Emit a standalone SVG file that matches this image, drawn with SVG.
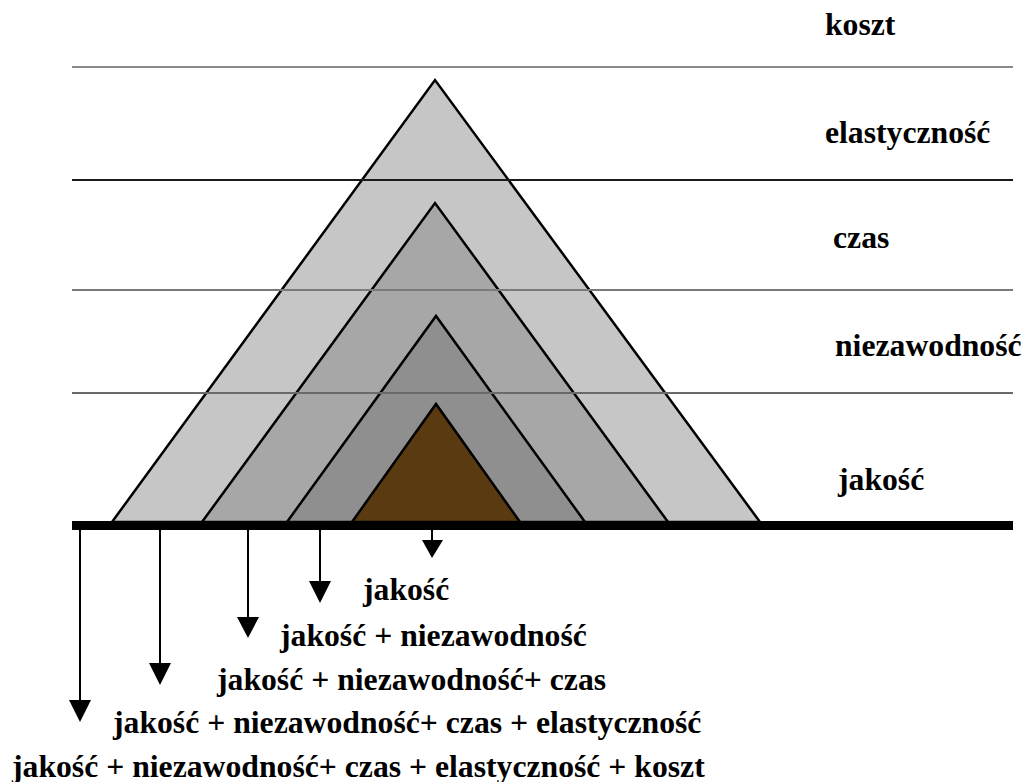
<svg xmlns="http://www.w3.org/2000/svg" width="1025" height="782" viewBox="0 0 1025 782">
  <style>
    .lbl { font-family: "Liberation Serif", "Times New Roman", serif; font-weight: bold; font-size: 31.7px; fill: #000; }
    .tri { stroke: #000; stroke-width: 2.5; stroke-linejoin: miter; }
    .level { stroke-width: 2; fill: none; }
    .arrow { stroke: #000; stroke-width: 2; fill: none; }
    .head { fill: #000; stroke: none; }
  </style>
  <rect width="1025" height="782" fill="#fff"/>

  <!-- nested pyramid layers, widest first -->
  <g id="layer-koszt">
    <polygon class="tri" points="112,522 435,80 760,522" fill="#c6c6c6"/>
  </g>
  <g id="layer-elastycznosc">
    <polygon class="tri" points="202,522 435,203 668,522" fill="#a7a7a7"/>
  </g>
  <g id="layer-czas">
    <polygon class="tri" points="287,522 436,316 585,522" fill="#8f8f8f"/>
  </g>
  <g id="layer-jakosc">
    <polygon class="tri" points="352,522 436,404 520,522" fill="#5a3a10"/>
  </g>

  <!-- level separators -->
  <g id="levels">
    <line class="level" x1="72" y1="67" x2="1013" y2="67" stroke="#8a8a8a"/>
    <line class="level" x1="72" y1="180" x2="1013" y2="180" stroke="#1a1a1a"/>
    <line class="level" x1="72" y1="290" x2="1013" y2="290" stroke="#7a7a7a"/>
    <line class="level" x1="72" y1="393" x2="1013" y2="393" stroke="#6a6a6a"/>
  </g>

  <!-- ground line -->
  <g id="base">
    <rect x="72" y="521" width="941" height="9" fill="#000"/>
  </g>

  <!-- level names -->
  <g id="level-labels">
    <text class="lbl" x="825" y="35">koszt</text>
    <text class="lbl" x="825" y="143">elastyczność</text>
    <text class="lbl" x="833" y="248">czas</text>
    <text class="lbl" x="835" y="356">niezawodność</text>
    <text class="lbl" x="838" y="490">jakość</text>
  </g>

  <!-- down arrows from the ground line -->
  <g id="connectors">
    <line class="arrow" x1="80" y1="530" x2="80" y2="702"/>
    <polygon class="head" points="69,700 91,700 80,722"/>
    <line class="arrow" x1="160" y1="530" x2="160" y2="665"/>
    <polygon class="head" points="149,663 171,663 160,685"/>
    <line class="arrow" x1="248" y1="530" x2="248" y2="619"/>
    <polygon class="head" points="237,617 259,617 248,638"/>
    <line class="arrow" x1="320" y1="530" x2="320" y2="582"/>
    <polygon class="head" points="309,581 331,581 320,603"/>
    <line class="arrow" x1="432" y1="530" x2="432" y2="542"/>
    <polygon class="head" points="422,540 443,540 432,558"/>
  </g>

  <!-- cumulative sums -->
  <g id="sum-labels">
    <text class="lbl" x="363" y="600">jakość</text>
    <text class="lbl" x="280" y="646">jakość + niezawodność</text>
    <text class="lbl" x="217" y="690">jakość + niezawodność+ czas</text>
    <text class="lbl" x="113" y="733">jakość + niezawodność+ czas + elastyczność</text>
    <text class="lbl" x="12" y="777">jakość + niezawodność+ czas + elastyczność + koszt</text>
  </g>
</svg>
